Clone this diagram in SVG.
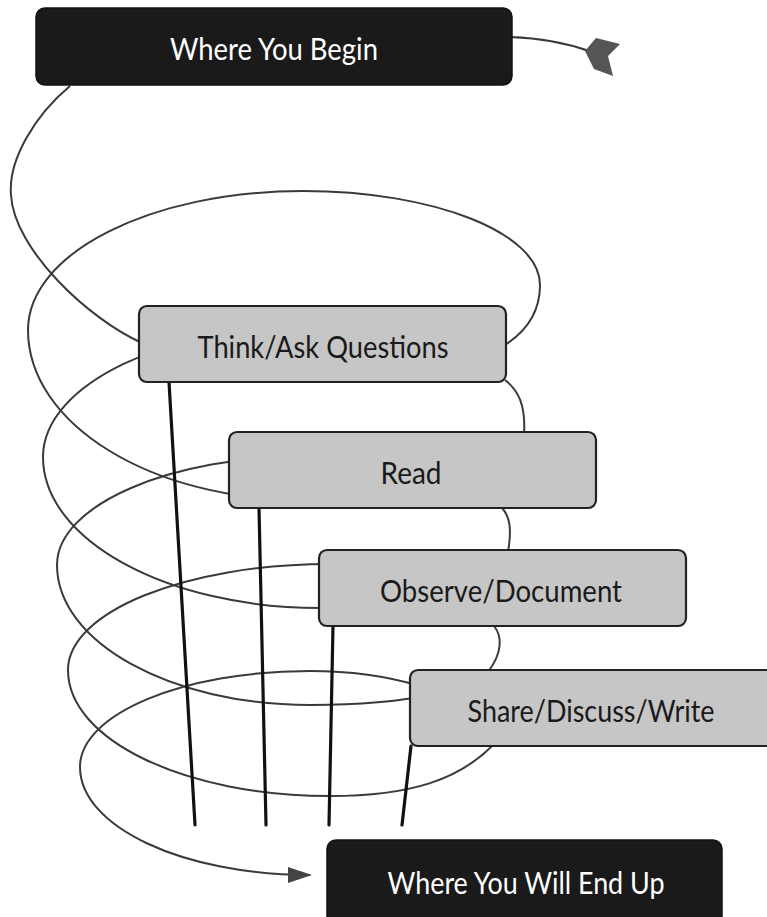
<svg xmlns="http://www.w3.org/2000/svg" width="767" height="917" viewBox="0 0 767 917">
<defs>
<style>
.sp{fill:none;stroke:#3a3a3a;stroke-width:2}
.post{fill:none;stroke:#111;stroke-width:3.2;stroke-linecap:round}
.dark{fill:#1a1a1a;stroke:#111;stroke-width:1.5}
.gray{fill:#c6c6c6;stroke:#222;stroke-width:2.2}
.lt{font-family:Lato,"Liberation Sans",sans-serif;font-size:31px;text-anchor:middle}
.w{fill:#fff}
.k{fill:#1a1a1a}
</style>
<marker id="ah" viewBox="0 0 24 16" refX="22" refY="8" markerWidth="24" markerHeight="16" markerUnits="userSpaceOnUse" orient="auto">
<path d="M0,0 L24,8 L0,16 Z" fill="#444"/>
</marker>
</defs>
<g id="connectors">
<path class="sp" d="M70,86 C35,115 8,160 11,195 C14,250 90,320 142,343"/>
<path class="sp" d="M500,348 C528,332 540,310 540,285 C540,233 434,191 303,191 C151,191 28,253 28,330 C28,424 151,500 303,500"/>
<path class="sp" d="M505,380 C518,390 526,405 524,434"/>
<path class="sp" d="M320,325 C167,325 43,384 43,457 C43,540 167,608 320,608"/>
<path class="sp" d="M310,456 C170,456 57,505 57,565 C57,642 170,705 310,705 C370,705 400,700 420,697"/>
<path class="sp" d="M500,506 C510,515 512,528 508,552"/>
<path class="sp" d="M330,564 C185,564 68,612 68,670 C68,740 185,796 330,796 C410,796 460,780 495,743"/>
<path class="sp" d="M494,626 C502,636 503,652 488,672"/>
<path class="sp" d="M420,686 C380,674 345,671 310,671 C183,671 80,714 80,767 C80,827 183,875 310,875" marker-end="url(#ah)"/>
<path class="sp" d="M510,37 C545,38 570,44 592,52"/>
<path d="M585,51 L596,38 L620,44 L608,56 L613,76 L594,69 Z" fill="#555"/>
<line class="post" x1="169" y1="382" x2="195" y2="825"/>
<line class="post" x1="259" y1="508" x2="266" y2="825"/>
<line class="post" x1="333" y1="626" x2="329" y2="825"/>
<line class="post" x1="411" y1="746" x2="402" y2="825"/>
</g>
<g id="begin">
<rect class="dark" x="36" y="8" width="476" height="77" rx="9"/>
<text class="lt w" x="274" y="60" textLength="208" lengthAdjust="spacingAndGlyphs">Where You Begin</text>
</g>
<g id="think">
<rect class="gray" x="139" y="306" width="367" height="76" rx="8"/>
<text class="lt k" x="323" y="358" textLength="251" lengthAdjust="spacingAndGlyphs">Think/Ask Questions</text>
</g>
<g id="read">
<rect class="gray" x="229" y="432" width="367" height="76" rx="8"/>
<text class="lt k" x="411" y="484" textLength="61" lengthAdjust="spacingAndGlyphs">Read</text>
</g>
<g id="observe">
<rect class="gray" x="319" y="550" width="367" height="76" rx="8"/>
<text class="lt k" x="501" y="602" textLength="242" lengthAdjust="spacingAndGlyphs">Observe/Document</text>
</g>
<g id="share">
<rect class="gray" x="410" y="670" width="367" height="76" rx="8"/>
<text class="lt k" x="591" y="722" textLength="247" lengthAdjust="spacingAndGlyphs">Share/Discuss/Write</text>
</g>
<g id="end">
<rect class="dark" x="327" y="840" width="395" height="90" rx="9"/>
<text class="lt w" x="526" y="894" textLength="277" lengthAdjust="spacingAndGlyphs">Where You Will End Up</text>
</g>
</svg>
